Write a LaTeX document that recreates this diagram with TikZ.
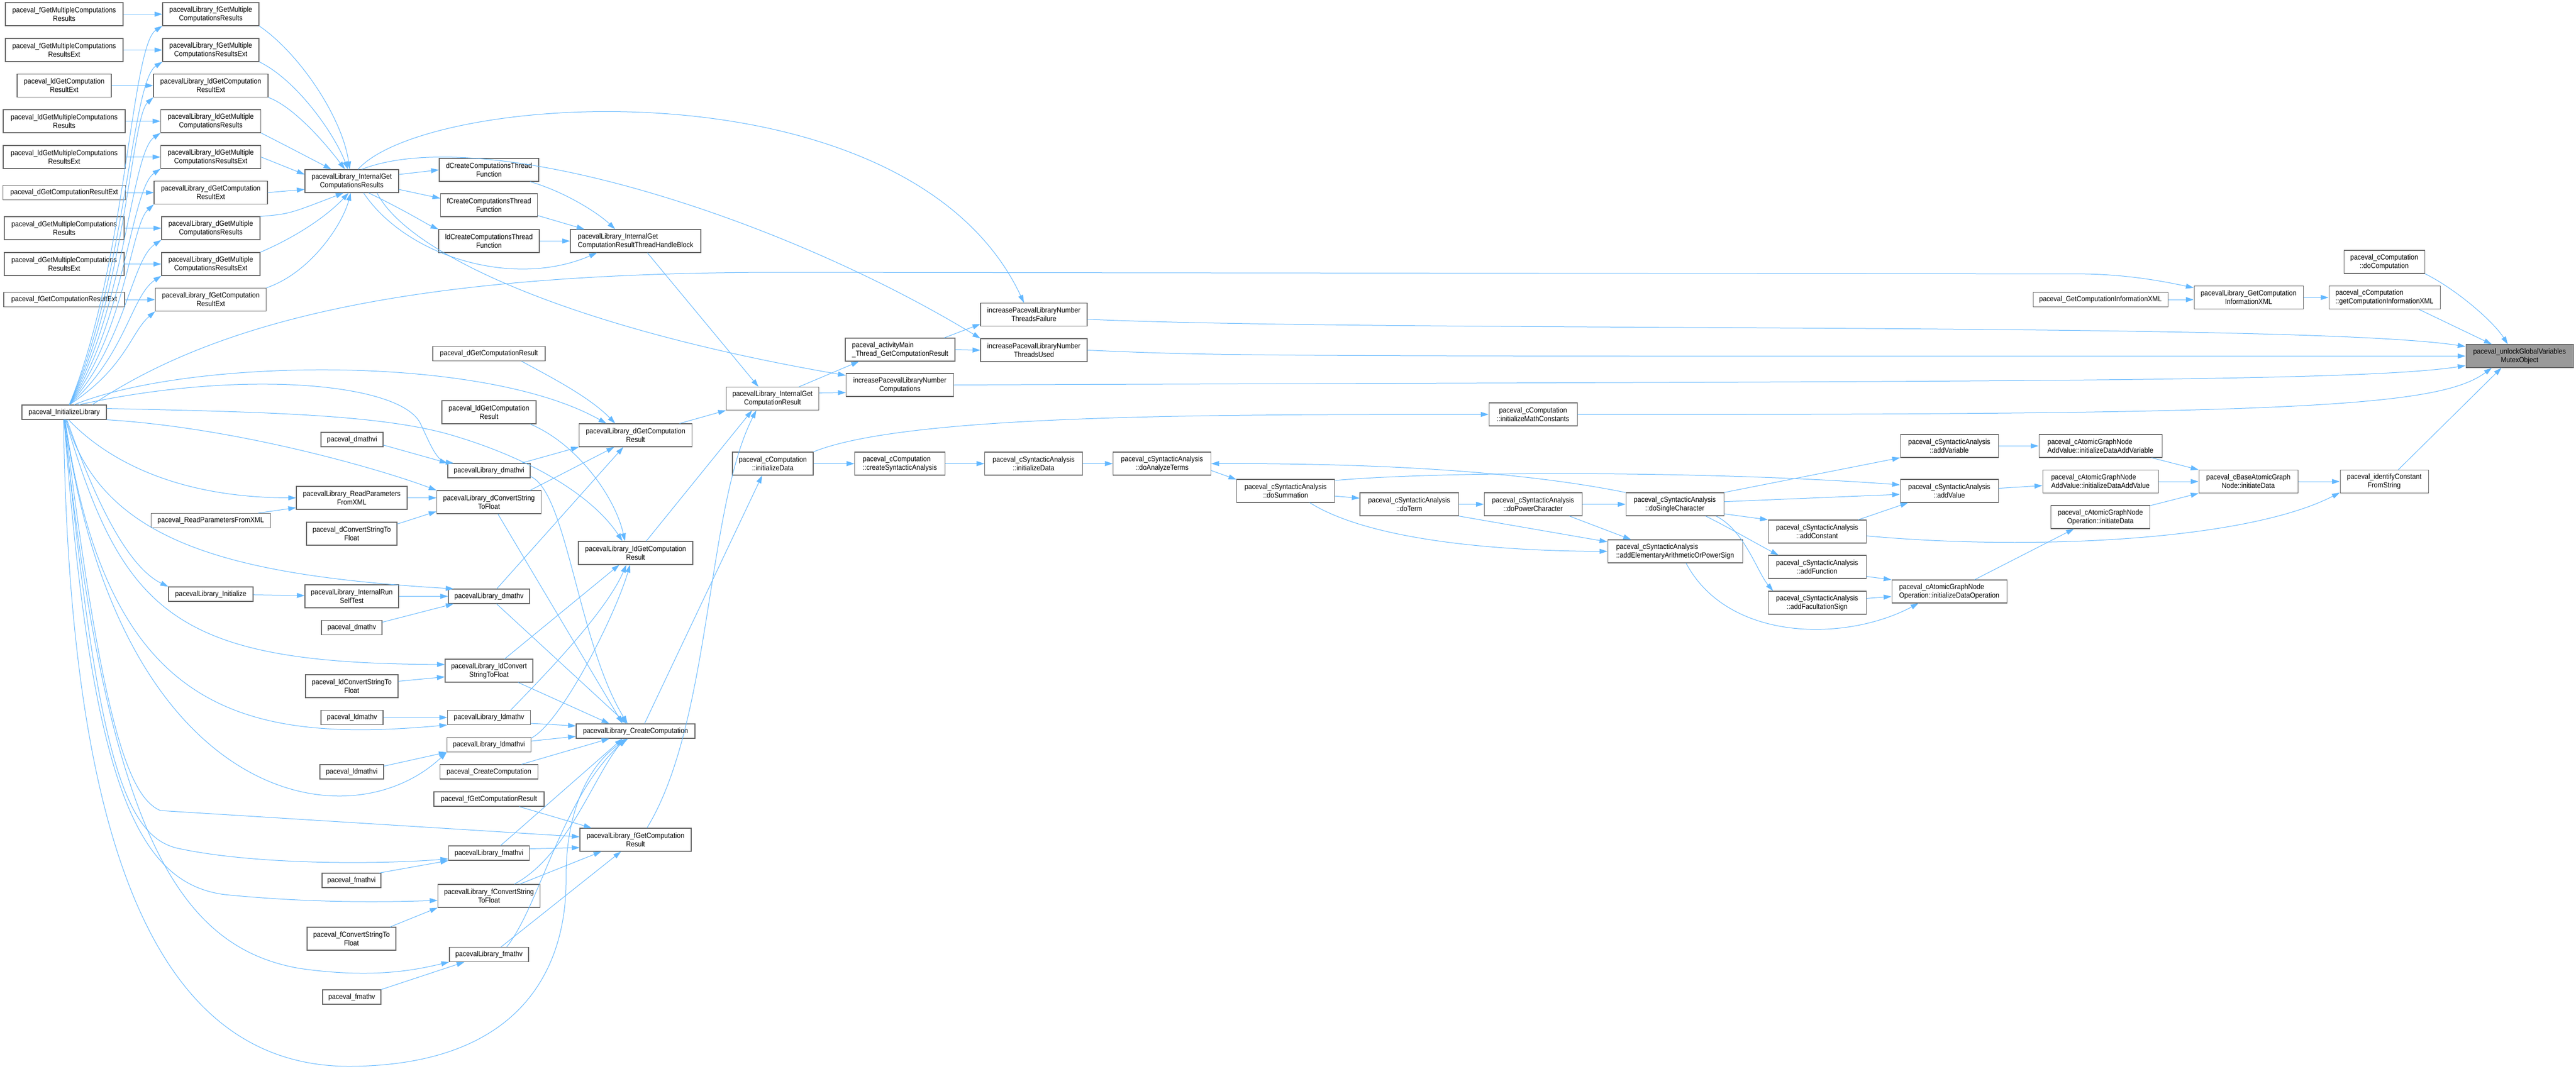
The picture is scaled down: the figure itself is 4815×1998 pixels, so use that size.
\documentclass[tikz,border=0pt]{standalone}
\usepackage{fontspec}
\setmainfont{Liberation Sans}[FakeStretch=0.9]
\usetikzlibrary{arrows.meta}
\definecolor{edgec}{HTML}{63B8FF}
\definecolor{bord}{HTML}{666666}
\definecolor{tgt}{HTML}{999999}
\begin{document}
\begin{tikzpicture}[x=0.75pt,y=-0.75pt,
 box/.style={draw=bord, line width=0.8pt, fill=white, inner sep=0pt, align=center, font=\fontsize{10.4}{12}\selectfont},
 one/.style={minimum height=20.25pt},
 two/.style={minimum height=32.25pt},
 bw/.style={minimum width=#1*0.75pt},
 lft/.style={align=left},
 cl/.style={draw=edgec, line width=0.75pt, -{Triangle[length=11pt,width=7pt]}}]
\fill[white] (0,0) rectangle (4815,1998);
\useasboundingbox (0,0) rectangle (4815,1998);
% column A
\node[box,two,bw=220] (A1) at (120,26.5) {paceval\_fGetMultipleComputations\\Results};
\node[box,two,bw=220] (A2) at (120,93.5) {paceval\_fGetMultipleComputations\\ResultsExt};
\node[box,two,bw=176] (A3) at (120,160) {paceval\_ldGetComputation\\ResultExt};
\node[box,two,bw=228] (A4) at (120,226.5) {paceval\_ldGetMultipleComputations\\Results};
\node[box,two,bw=228] (A5) at (120,293.5) {paceval\_ldGetMultipleComputations\\ResultsExt};
\node[box,one,bw=229] (A6) at (120,360) {paceval\_dGetComputationResultExt};
\node[box,two,bw=224] (A7) at (120,426.5) {paceval\_dGetMultipleComputations\\Results};
\node[box,two,bw=224] (A8) at (120,493.5) {paceval\_dGetMultipleComputations\\ResultsExt};
\node[box,one,bw=226] (A9) at (120,560) {paceval\_fGetComputationResultExt};
\node[box,one,bw=158] (Init) at (120,770.5) {paceval\_InitializeLibrary};
% column B
\node[box,two,bw=180] (B1) at (394,26.5) {pacevalLibrary\_fGetMultiple\\ComputationsResults};
\node[box,two,bw=180] (B2) at (394,93.5) {pacevalLibrary\_fGetMultiple\\ComputationsResultsExt};
\node[box,two,bw=214] (B3) at (394,160) {pacevalLibrary\_ldGetComputation\\ResultExt};
\node[box,two,bw=187] (B4) at (394,226.5) {pacevalLibrary\_ldGetMultiple\\ComputationsResults};
\node[box,two,bw=187] (B5) at (394,293.5) {pacevalLibrary\_ldGetMultiple\\ComputationsResultsExt};
\node[box,two,bw=212] (B6) at (394,360) {pacevalLibrary\_dGetComputation\\ResultExt};
\node[box,two,bw=184] (B7) at (394,426.5) {pacevalLibrary\_dGetMultiple\\ComputationsResults};
\node[box,two,bw=184] (B8) at (394,493.5) {pacevalLibrary\_dGetMultiple\\ComputationsResultsExt};
\node[box,two,bw=207] (B9) at (394,560) {pacevalLibrary\_fGetComputation\\ResultExt};
\node[box,one,bw=223] (pReadXML) at (394,973) {paceval\_ReadParametersFromXML};
\node[box,one,bw=158] (LInit) at (394,1110.5) {pacevalLibrary\_Initialize};
% column C
\node[box,two,bw=175] (IGCR) at (657.5,338.5) {pacevalLibrary\_InternalGet\\ComputationsResults};
\node[box,one,bw=116] (pdmathvi) at (658,821.5) {paceval\_dmathvi};
\node[box,two,bw=207] (LReadXML) at (657.5,930.5) {pacevalLibrary\_ReadParameters\\FromXML};
\node[box,two,bw=169] (pdConv) at (657.5,997.5) {paceval\_dConvertStringTo\\Float};
\node[box,two,bw=175] (LSelfTest) at (657.5,1114.5) {pacevalLibrary\_InternalRun\\SelfTest};
\node[box,one,bw=113] (pdmathv) at (657.5,1173) {paceval\_dmathv};
\node[box,two,bw=173] (pldConv) at (657.5,1282.5) {paceval\_ldConvertStringTo\\Float};
\node[box,one,bw=116] (pldmathv) at (658,1341) {paceval\_ldmathv};
\node[box,one,bw=119] (pldmathvi) at (657.5,1442.5) {paceval\_ldmathvi};
\node[box,one,bw=110] (pfmathvi) at (657,1645.5) {paceval\_fmathvi};
\node[box,two,bw=166] (pfConv) at (657,1754.5) {paceval\_fConvertStringTo\\Float};
\node[box,one,bw=109] (pfmathv) at (657.5,1863.5) {paceval\_fmathv};
% column D
\node[box,two,bw=186] (dCreate) at (914,317.5) {dCreateComputationsThread\\Function};
\node[box,two,bw=181] (fCreate) at (914,383.5) {fCreateComputationsThread\\Function};
\node[box,two,bw=188] (ldCreate) at (914,450.5) {ldCreateComputationsThread\\Function};
\node[box,one,bw=210] (pdGCR) at (914,661) {paceval\_dGetComputationResult};
\node[box,two,bw=176] (pldGCR) at (914,770.5) {paceval\_ldGetComputation\\Result};
\node[box,one,bw=154] (Ldmathvi) at (914,879.5) {pacevalLibrary\_dmathvi};
\node[box,two,bw=195] (LdConv) at (914,938.5) {pacevalLibrary\_dConvertString\\ToFloat};
\node[box,one,bw=152] (Ldmathv) at (914,1114.5) {pacevalLibrary\_dmathv};
\node[box,two,bw=164] (LldConv) at (914,1253.5) {pacevalLibrary\_ldConvert\\StringToFloat};
\node[box,one,bw=155] (Lldmathv) at (914,1341) {pacevalLibrary\_ldmathv};
\node[box,one,bw=157] (Lldmathvi) at (914,1392) {pacevalLibrary\_ldmathvi};
\node[box,one,bw=183] (pCreate) at (914,1442.5) {paceval\_CreateComputation};
\node[box,one,bw=206] (pfGCR) at (914,1493.5) {paceval\_fGetComputationResult};
\node[box,one,bw=151] (Lfmathvi) at (914,1594.5) {pacevalLibrary\_fmathvi};
\node[box,two,bw=191] (LfConv) at (914,1674.5) {pacevalLibrary\_fConvertString\\ToFloat};
\node[box,one,bw=148] (Lfmathv) at (914,1784) {pacevalLibrary\_fmathv};
% column E
\node[box,two,lft,bw=244] (THB) at (1188,450.5) {pacevalLibrary\_InternalGet\\ComputationResultThreadHandleBlock};
\node[box,two,bw=211] (LdGCR) at (1188,813.5) {pacevalLibrary\_dGetComputation\\Result};
\node[box,two,bw=214] (LldGCR) at (1188,1033.5) {pacevalLibrary\_ldGetComputation\\Result};
\node[box,one,bw=222] (LCreate) at (1188,1366.5) {pacevalLibrary\_CreateComputation};
\node[box,two,bw=208] (LfGCR) at (1188,1569.5) {pacevalLibrary\_fGetComputation\\Result};
% further columns
\node[box,two,bw=173] (LIGCRes) at (1444,745) {pacevalLibrary\_InternalGet\\ComputationResult};
\node[box,two,bw=151] (cCompInit) at (1444.5,866.5) {paceval\_cComputation\\::initializeData};
\node[box,two,lft,bw=205] (actMain) at (1682.5,653.5) {paceval\_activityMain\\\_Thread\_GetComputationResult};
\node[box,two,bw=201] (NumComp) at (1682,719.5) {increasePacevalLibraryNumber\\Computations};
\node[box,two,lft,bw=169] (createSA) at (1682,866.5) {paceval\_cComputation\\::createSyntacticAnalysis};
\node[box,two,bw=199] (Failure) at (1932.5,588) {increasePacevalLibraryNumber\\ThreadsFailure};
\node[box,two,bw=199] (Used) at (1932.5,654.5) {increasePacevalLibraryNumber\\ThreadsUsed};
\node[box,two,bw=183] (SAinit) at (1932,866.5) {paceval\_cSyntacticAnalysis\\::initializeData};
\node[box,two,bw=183] (doAT) at (2172,866.5) {paceval\_cSyntacticAnalysis\\::doAnalyzeTerms};
\node[box,two,bw=183] (doSum) at (2403,917.5) {paceval\_cSyntacticAnalysis\\::doSummation};
\node[box,two,bw=184] (doTerm) at (2634,942.5) {paceval\_cSyntacticAnalysis\\::doTerm};
\node[box,two,bw=183] (doPow) at (2865.5,942.5) {paceval\_cSyntacticAnalysis\\::doPowerCharacter};
\node[box,two,bw=165] (initMC) at (2865.5,774.5) {paceval\_cComputation\\::initializeMathConstants};
\node[box,two,bw=183] (doSingle) at (3130.5,942.5) {paceval\_cSyntacticAnalysis\\::doSingleCharacter};
\node[box,two,lft,bw=252] (addElem) at (3131,1030.5) {paceval\_cSyntacticAnalysis\\::addElementaryArithmeticOrPowerSign};
\node[box,two,bw=183] (addConst) at (3396.5,993.5) {paceval\_cSyntacticAnalysis\\::addConstant};
\node[box,two,bw=183] (addFunc) at (3396.5,1059.5) {paceval\_cSyntacticAnalysis\\::addFunction};
\node[box,two,bw=183] (addFact) at (3396.5,1126.5) {paceval\_cSyntacticAnalysis\\::addFacultationSign};
\node[box,two,bw=183] (addVar) at (3643.5,833.5) {paceval\_cSyntacticAnalysis\\::addVariable};
\node[box,two,bw=183] (addVal) at (3643.5,917.5) {paceval\_cSyntacticAnalysis\\::addValue};
\node[box,two,lft,bw=215] (initOp) at (3643.5,1105.5) {paceval\_cAtomicGraphNode\\Operation::initializeDataOperation};
\node[box,two,lft,bw=230] (AGVar) at (3926,833.5) {paceval\_cAtomicGraphNode\\AddValue::initializeDataAddVariable};
\node[box,two,lft,bw=216] (AGVal) at (3926,900) {paceval\_cAtomicGraphNode\\AddValue::initializeDataAddValue};
\node[box,two,bw=185] (AGOp) at (3926,966.5) {paceval\_cAtomicGraphNode\\Operation::initiateData};
\node[box,one,bw=252] (pGetXML) at (3926,560) {paceval\_GetComputationInformationXML};
\node[box,two,bw=185] (Base) at (4202.5,900) {paceval\_cBaseAtomicGraph\\Node::initiateData};
\node[box,two,bw=204] (LGetXML) at (4203,556) {pacevalLibrary\_GetComputation\\InformationXML};
\node[box,two,bw=165] (identify) at (4456.5,900) {paceval\_identifyConstant\\FromString};
\node[box,two,bw=151] (doComp) at (4456.5,489.5) {paceval\_cComputation\\::doComputation};
\node[box,two,lft,bw=208] (getXML) at (4457,556) {paceval\_cComputation\\::getComputationInformationXML};
\node[box,two,bw=201,fill=tgt] (unlock) at (4709.5,665.5) {paceval\_unlockGlobalVariables\\MutexObject};

% ---------------- edges ----------------
\foreach \i in {1,...,9}{\draw[cl] (A\i) -- (B\i);}
\draw[cl] (Init.56) .. controls (235,501) and (245,86) .. (B1.south west);
\draw[cl] (Init.56) .. controls (235,525) and (245,153) .. (B2.south west);
\draw[cl] (Init.56) .. controls (235,548) and (245,220) .. (B3.south west);
\draw[cl] (Init.56) .. controls (235,571) and (245,286) .. (B4.south west);
\draw[cl] (Init.56) .. controls (235,595) and (245,353) .. (B5.south west);
\draw[cl] (Init.56) .. controls (235,618) and (245,420) .. (B6.south west);
\draw[cl] (Init.56) .. controls (235,641) and (245,486) .. (B7.south west);
\draw[cl] (Init.56) .. controls (235,665) and (245,553) .. (B8.south west);
\draw[cl] (Init.56) .. controls (235,688) and (245,620) .. (B9.south west);
% B -> IGCR
\draw[cl] (B1.south east) .. controls (560,100) and (640,220) .. (IGCR.100);
\draw[cl] (B2.south east) .. controls (555,150) and (625,250) .. (IGCR.108);
\draw[cl] (B3.south east) .. controls (550,200) and (610,270) .. (IGCR.120);
\draw[cl] (B4.south east) .. controls (530,270) .. (IGCR.150);
\draw[cl] (B5.east) -- (IGCR.172);
\draw[cl] (B6.east) -- (IGCR.190);
\draw[cl] (B7.north east) .. controls (540,400) .. (IGCR.235);
\draw[cl] (B8.north east) .. controls (560,440) and (615,400) .. (IGCR.255);
\draw[cl] (B9.north east) .. controls (580,510) and (640,420) .. (IGCR.265);
% IGCR out
\draw[cl] (IGCR.8) -- (dCreate.west);
\draw[cl] (IGCR.-10) -- (fCreate.172);
\draw[cl] (IGCR.-35) .. controls (760,395) and (800,420) .. (ldCreate.north west);
\draw[cl] (IGCR.-45) .. controls (760,480) and (960,540) .. (THB.-163);
\draw[cl] (dCreate.-16) .. controls (1060,360) and (1120,400) .. (THB.150);
\draw[cl] (fCreate.-12) -- (THB.167);
\draw[cl] (ldCreate.east) -- (THB.west);
\draw[cl] (THB.-45) -- (LIGCRes.140);
\draw[cl] (IGCR.62) .. controls (800,170) and (1700,110) .. (Failure.130);
\draw[cl] (IGCR.50) .. controls (900,230) and (1450,400) .. (Used.north west);
\draw[cl] (IGCR.-25) .. controls (760,470) and (1050,610) .. (NumComp.170);
\draw[cl] (LIGCRes.24) -- (actMain.-164);
\draw[cl] (LIGCRes.7) -- (NumComp.-172);
\draw[cl] (actMain.15) -- (Failure.-170);
\draw[cl] (actMain.east) -- (Used.west);
% into unlock
\draw[cl] (Failure.-5) .. controls (2600,622) and (4300,600) .. (unlock.170);
\draw[cl] (Used.east) .. controls (2300,666) .. (unlock.west);
\draw[cl] (NumComp.east) .. controls (3600,712) and (4400,716) .. (unlock.-170);
\draw[cl] (initMC.east) .. controls (4300,776) and (4560,760) .. (unlock.-157);
\draw[cl] (identify.40) -- (unlock.-147);
\draw[cl] (doComp.south east) .. controls (4590,540) and (4660,600) .. (unlock.135);
\draw[cl] (getXML.-19) -- (unlock.157);
\draw[cl] (LGetXML) -- (getXML);
\draw[cl] (pGetXML.east) -- (LGetXML.west |- pGetXML.east);
\draw[cl] (Init.15) .. controls (420,590) and (800,510) .. (1450,509) -- (3900,512) .. controls (3980,514) and (4040,525) .. (LGetXML.170);
% computation chain
\draw[cl] (cCompInit) -- (createSA);
\draw[cl] (createSA) -- (SAinit);
\draw[cl] (SAinit) -- (doAT);
\draw[cl] (cCompInit.north east) .. controls (1700,772) and (2300,775) .. (initMC.west);
\draw[cl] (LCreate.40) -- (cCompInit.-132);
\draw[cl] (doAT.-8) -- (doSum.167);
\draw[cl] (doSingle.north west) .. controls (2800,872) and (2480,866) .. (doAT.east);
\draw[cl] (doSum.-6) -- (doTerm.173);
\draw[cl] (doTerm) -- (doPow);
\draw[cl] (doPow) -- (doSingle);
\draw[cl] (doSum.-26) .. controls (2560,1010) and (2800,1030) .. (addElem.west);
\draw[cl] (doTerm.south east) -- (addElem.172);
\draw[cl] (doPow.-18) -- (addElem.165);
\draw[cl] (doSum.12) .. controls (2700,880) and (3200,880) .. (addVal.173);
\draw[cl] (doSingle.north east) -- (addVar.south west);
\draw[cl] (doSingle.3) -- (addVal.-176);
\draw[cl] (doSingle.-11) -- (addConst.north west);
\draw[cl] (doSingle.-21) .. controls (3230,985) and (3290,1020) .. (addFunc.163);
\draw[cl] (doSingle.-16) .. controls (3260,990) and (3285,1070) .. (addFact.165);
\draw[cl] (addElem.-47) .. controls (3230,1200) and (3450,1200) .. (initOp.-159);
\draw[cl] (addConst.16) -- (addVal.-164);
\draw[cl] (addConst.-5) .. controls (3800,1030) and (4200,1010) .. (identify.-166);
\draw[cl] (addFunc.-11) -- (initOp.north west);
\draw[cl] (addFact.5) -- (initOp.-175);
\draw[cl] (addVar) -- (AGVar);
\draw[cl] (addVal.3) -- (AGVal.-176);
\draw[cl] (initOp.25) -- (AGOp.-156);
\draw[cl] (AGVar.-13) -- (Base.north west);
\draw[cl] (AGVal) -- (Base);
\draw[cl] (AGOp.13) -- (Base.south west);
\draw[cl] (Base) -- (identify);
% middle region
\draw[cl] (pdGCR.-13) .. controls (1020,700) and (1100,740) .. (LdGCR.150);
\draw[cl] (Init.37) .. controls (350,670) and (900,660) .. (LdGCR.158);
\draw[cl] (Ldmathvi.13) -- (LdGCR.south west);
\draw[cl] (LdConv.16) -- (LdGCR.-151);
\draw[cl] (Ldmathv.44) -- (LdGCR.-136);
\draw[cl] (LdGCR.15) -- (LIGCRes.south west);
\draw[cl] (pldGCR.-16) .. controls (1080,830) and (1150,930) .. (LldGCR.132);
\draw[cl] (Init.5) .. controls (500,770) and (720,775) .. (850,815) .. controls (1000,860) and (1110,930) .. (LldGCR.138);
\draw[cl] (Init.27) .. controls (450,690) and (745,715) .. (785,790) .. controls (800,820) and (815,862) .. (Ldmathvi.168);
\draw[cl] (Init.-10) .. controls (450,800) and (720,880) .. (LdConv.north west);
\draw[cl] (Init.-60) .. controls (200,860) and (330,930) .. (LReadXML.west);
\draw[cl] (pReadXML.9) -- (LReadXML.-170);
\draw[cl] (LReadXML.east) -- (LdConv.west |- LReadXML.east);
\draw[cl] (pdConv.12) -- (LdConv.-170);
\draw[cl] (pdmathvi.-10) -- (Ldmathvi.north west);
\draw[cl] (Init.-70) .. controls (200,1000) and (260,1070) .. (LInit.north west);
\draw[cl] (LInit) -- (LSelfTest);
\draw[cl] (LSelfTest.east) -- (Ldmathv.west);
\draw[cl] (pdmathv.10) -- (Ldmathv.-168);
\draw[cl] (Init.-75) .. controls (190,1010) and (420,1075) .. (Ldmathv.168);
\draw[cl] (Init.-80) .. controls (230,1150) and (330,1240) .. (LldConv.172);
\draw[cl] (pldConv.6) -- (LldConv.-172);
\draw[cl] (Init.-83) .. controls (200,1330) and (450,1390) .. (Lldmathv.south west);
\draw[cl] (pldmathv) -- (Lldmathv);
\draw[cl] (Init.-85) .. controls (220,1500) and (650,1580) .. (Lldmathvi.south west);
\draw[cl] (pldmathvi.10) -- (Lldmathvi.-170);
\draw[cl] (Init.-87) .. controls (190,1350) and (240,1490) .. (300,1515) -- (LfGCR.177);
\draw[cl] (pfGCR.-14) -- (LfGCR.165);
\draw[cl] (Init.-89) .. controls (180,1400) and (230,1560) .. (330,1585) .. controls (480,1618) and (720,1615) .. (Lfmathvi.-172);
\draw[cl] (pfmathvi.15) -- (Lfmathvi.south west);
\draw[cl] (Lfmathvi.6) -- (LfGCR.-172);
\draw[cl] (Lfmathvi.33) -- (LCreate.-150);
\draw[cl] (Init.-91) .. controls (170,1450) and (250,1650) .. (420,1672) .. controls (600,1690) and (750,1685) .. (LfConv.-175);
\draw[cl] (pfConv.17) -- (LfConv.south west);
\draw[cl] (LfConv.21) -- (LfGCR.-161);
\draw[cl] (LfConv.25) .. controls (1060,1600) and (1110,1450) .. (LCreate.-145);
\draw[cl] (Init.-93) .. controls (200,1550) and (330,1770) .. (560,1810) .. controls (700,1830) and (780,1812) .. (Lfmathv.south west);
\draw[cl] (pfmathv.north east) -- (Lfmathv.-163);
\draw[cl] (Lfmathv.32) -- (LfGCR.-141);
\draw[cl] (Lfmathv.23) .. controls (1010,1690) and (1050,1490) .. (LCreate.-140);
\draw[cl] (Init.-95) .. controls (130,1600) and (300,1995) .. (656,1993) .. controls (1000,1990) and (1060,1780) .. (1058,1640) .. controls (1058,1500) and (1110,1420) .. (LCreate.-135);
\draw[cl] (pCreate.13) -- (LCreate.-164);
\draw[cl] (Lldmathv.-8) -- (LCreate.175);
\draw[cl] (Lldmathvi.5) -- (LCreate.-175);
\draw[cl] (Lldmathvi.9) .. controls (1050,1350) and (1150,1150) .. (LldGCR.-115);
\draw[cl] (Lldmathv.19) .. controls (1000,1280) and (1130,1150) .. (LldGCR.-128);
\draw[cl] (LldConv.37) -- (LldGCR.-144);
\draw[cl] (LldConv.-22) -- (LCreate.164);
\draw[cl] (LdConv.-53) -- (LCreate.150);
\draw[cl] (Ldmathv.-45) -- (LCreate.140);
\draw[cl] (Ldmathvi.-8) .. controls (1060,920) and (1080,1200) .. (LCreate.137);
\draw[cl] (LldGCR.48) -- (LIGCRes.-150);
\draw[cl] (LfGCR.46) .. controls (1330,1350) and (1320,950) .. (LIGCRes.-144);
\end{tikzpicture}
\end{document}
